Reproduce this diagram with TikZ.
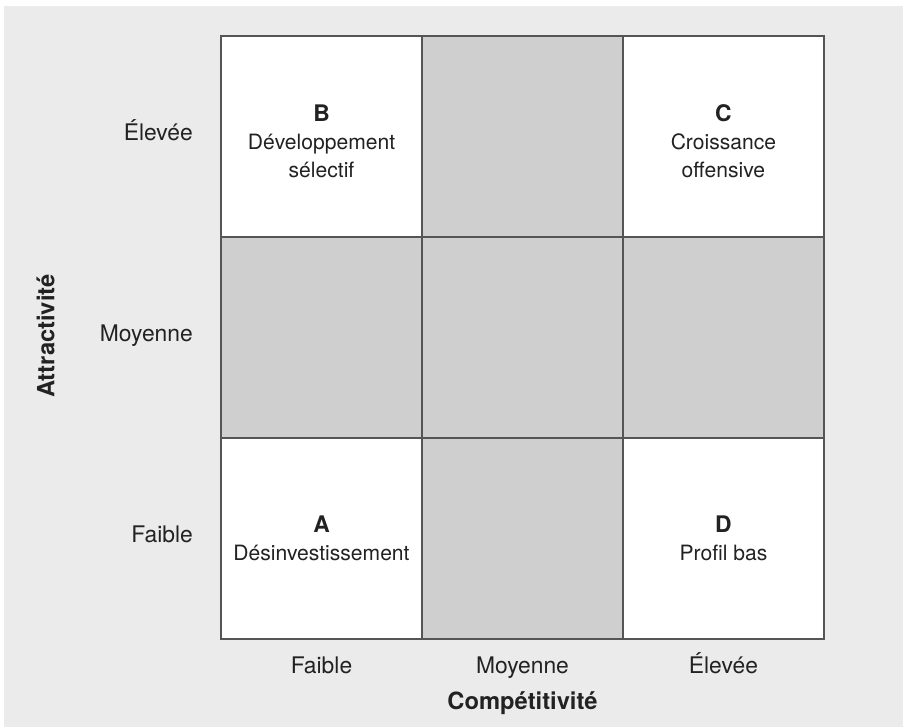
\documentclass[tikz,border=0pt]{standalone}
\usepackage{fontspec}
\setmainfont{TeX Gyre Heros}
\usetikzlibrary{positioning}
\definecolor{bgcol}{HTML}{EBEBEB}
\definecolor{cellgray}{HTML}{CFCFCF}
\definecolor{linecol}{HTML}{555555}
\definecolor{txtcol}{HTML}{222222}

\begin{document}
\begin{tikzpicture}[
  x=0.02cm, y=-0.02cm,
  node distance = 0pt,
  cell/.style     = {draw=linecol, line width=0.8pt, fill=white,
                     minimum size=4.02cm, inner sep=0pt, outer sep=0pt},
  shaded/.style   = {cell, fill=cellgray},
  celltext/.style = {align=center, text=txtcol,
                     font=\fontsize{12}{16}\selectfont},
  axlbl/.style    = {text=txtcol, text height=0.75em, text depth=0.25em,
                     font=\fontsize{13}{15}\selectfont},
  axtitle/.style  = {axlbl, font=\fontsize{13.5}{15}\selectfont\bfseries}
]
\useasboundingbox (0,0) rectangle (903,727);
\fill[bgcol] (4,6) rectangle (903,727);
% top row
\node[cell] (B) at (321.5,136.5) {};
\node[shaded, right=of B] (topmid) {};
\node[cell, right=of topmid] (C) {};
% middle row
\node[shaded, below=of B] (midleft) {};
\node[shaded, right=of midleft] (midmid) {};
\node[shaded, right=of midmid] (midright) {};
% bottom row
\node[cell, below=of midleft] (A) {};
\node[shaded, right=of A] (botmid) {};
\node[cell, right=of botmid] (D) {};
% cell texts
\node[celltext] (Btxt) at ([yshift=-1mm]B.center)
  {{\fontsize{13}{16}\selectfont\bfseries B}\\Développement\\sélectif};
\node[celltext] (Ctxt) at ([yshift=-1mm]C.center)
  {{\fontsize{13}{16}\selectfont\bfseries C}\\Croissance\\offensive};
\node[celltext] (Atxt) at (A.center)
  {{\fontsize{13}{16}\selectfont\bfseries A}\\Désinvestissement};
\node[celltext] (Dtxt) at (D.center)
  {{\fontsize{13}{16}\selectfont\bfseries D}\\Profil bas};
% row labels
\node[axlbl, left=4.4mm of B] (rhigh) {Élevée};
\node[axlbl, left=4.4mm of midleft] (rmid) {Moyenne};
\node[axlbl, left=4.4mm of A] (rlow) {Faible};
\node[axtitle, rotate=90] (yaxis) at (50,336) {Attractivité};
% column labels
\node[axlbl, below=3mm of A] (clow) {Faible};
\node[axlbl, below=3mm of botmid] (cmid) {Moyenne};
\node[axlbl, below=3mm of D] (chigh) {Élevée};
\node[axtitle, below=1.2mm of cmid] (xaxis) {Compétitivité};
\end{tikzpicture}
\end{document}
